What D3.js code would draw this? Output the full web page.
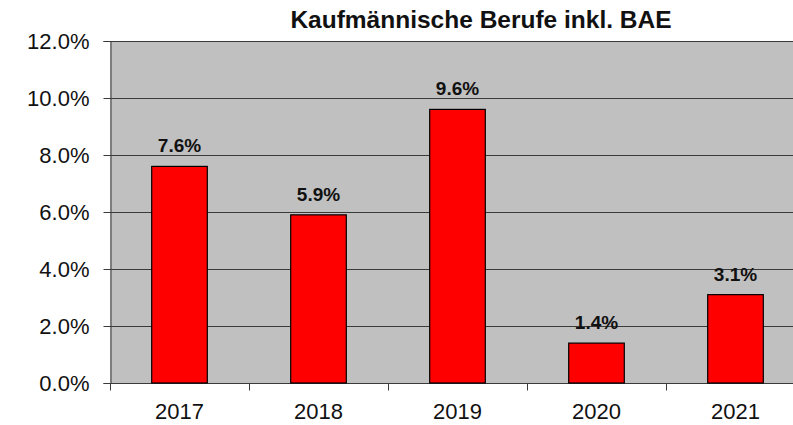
<!DOCTYPE html>
<html>
<head>
<meta charset="utf-8">
<script src="https://cdn.jsdelivr.net/npm/d3@7"></script>
<style>
  body { margin: 0; background: #fff; }
  text { font-family: "Liberation Sans", Arial, sans-serif; }
</style>
</head>
<body>
<svg id="chart" width="793" height="425"></svg>
<script>
var years = ["2017", "2018", "2019", "2020", "2021"];
var values = [7.6, 5.9, 9.6, 1.4, 3.1];
var yTicks = [0, 2, 4, 6, 8, 10, 12];
var title = "Kaufmännische Berufe inkl. BAE";

var svg = d3.select("#chart");
var plotLeft = 110, plotRight = 805, plotTop = 41, plotBottom = 383;

var xScale = d3.scaleBand()
    .domain(years)
    .range([plotLeft, plotRight])
    .paddingInner(0.6)
    .paddingOuter(0.3);

var yScale = d3.scaleLinear()
    .domain([0, 12])
    .range([plotBottom, plotTop]);

// plot background
svg.append("rect")
    .attr("x", plotLeft)
    .attr("y", plotTop)
    .attr("width", plotRight - plotLeft)
    .attr("height", plotBottom - plotTop)
    .attr("fill", "#c0c0c0");

// gridlines
svg.append("g").selectAll("line")
    .data(yTicks)
    .enter().append("line")
    .attr("x1", plotLeft)
    .attr("x2", plotRight)
    .attr("y1", function (d) { return yScale(d) + 0.5; })
    .attr("y2", function (d) { return yScale(d) + 0.5; })
    .attr("stroke", "#3a3a3a")
    .attr("stroke-width", 1);

// bars
svg.append("g").selectAll("rect")
    .data(values)
    .enter().append("rect")
    .attr("x", function (d, i) { return xScale(years[i]); })
    .attr("y", function (d) { return yScale(d); })
    .attr("width", xScale.bandwidth())
    .attr("height", function (d) { return plotBottom - yScale(d); })
    .attr("fill", "#ff0000")
    .attr("stroke", "#000")
    .attr("stroke-width", 1.2);

// value labels
svg.append("g").selectAll("text")
    .data(values)
    .enter().append("text")
    .attr("x", function (d, i) { return xScale(years[i]) + xScale.bandwidth() / 2; })
    .attr("y", function (d) { return yScale(d) - 14; })
    .attr("text-anchor", "middle")
    .attr("font-size", "19px")
    .attr("font-weight", "bold")
    .attr("fill", "#111")
    .text(function (d) { return d.toFixed(1) + "%"; });

// y axis
var yAxis = d3.axisLeft(yScale)
    .tickValues(yTicks)
    .tickSize(7)
    .tickPadding(14)
    .tickFormat(function (d) { return d.toFixed(1) + "%"; });

var yG = svg.append("g")
    .attr("transform", "translate(" + (plotLeft + 0.5) + ",0)")
    .call(yAxis);
yG.select(".domain").attr("stroke", "#3a3a3a");
yG.selectAll(".tick line").attr("stroke", "#3a3a3a");
yG.selectAll("text")
    .attr("font-size", "22px")
    .attr("fill", "#111")
    .style("font-family", "'Liberation Sans', Arial, sans-serif");

// x axis with ticks between categories
var xTickScale = d3.scalePoint()
    .domain(d3.range(years.length + 1))
    .range([plotLeft, plotRight]);

var xG = svg.append("g")
    .attr("transform", "translate(0," + (plotBottom + 0.5) + ")");
xG.selectAll("line")
    .data(d3.range(years.length + 1))
    .enter().append("line")
    .attr("x1", function (d) { return xTickScale(d) + 0.5; })
    .attr("x2", function (d) { return xTickScale(d) + 0.5; })
    .attr("y1", 0)
    .attr("y2", 7)
    .attr("stroke", "#3a3a3a");
xG.selectAll("text")
    .data(years)
    .enter().append("text")
    .attr("x", function (d) { return xScale(d) + xScale.bandwidth() / 2; })
    .attr("y", 35)
    .attr("text-anchor", "middle")
    .attr("font-size", "22px")
    .attr("fill", "#111")
    .text(function (d) { return d; });

// title
svg.append("text")
    .attr("x", 481)
    .attr("y", 28)
    .attr("text-anchor", "middle")
    .attr("font-size", "24.5px")
    .attr("font-weight", "bold")
    .attr("fill", "#111")
    .text(title);
</script>
</body>
</html>
